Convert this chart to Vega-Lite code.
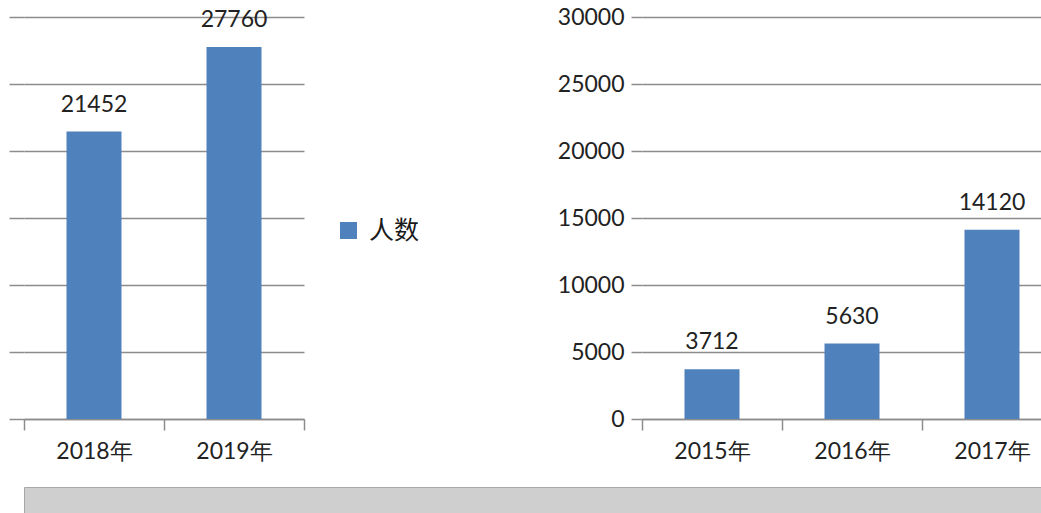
{
  "$schema": "https://vega.github.io/schema/vega-lite/v6.json",
  "padding": {"left": 8, "top": 6, "right": 0, "bottom": 0},
  "background": "white",
  "datasets": {
    "recent": [
      {"year": "2018年", "count": 21452, "series": "人数"},
      {"year": "2019年", "count": 27760, "series": "人数"}
    ],
    "earlier": [
      {"year": "2015年", "count": 3712, "series": "人数"},
      {"year": "2016年", "count": 5630, "series": "人数"},
      {"year": "2017年", "count": 14120, "series": "人数"}
    ]
  },
  "spacing": 23,
  "vconcat": [
    {
      "spacing": 252,
      "hconcat": [
        {
          "width": 280,
          "height": 402,
          "data": {"name": "recent"},
          "encoding": {
            "x": {"field": "year", "type": "nominal", "sort": null,
              "scale": {"paddingInner": 0, "paddingOuter": 0},
              "axis": {"title": null, "labelAngle": 0, "tickBand": "extent", "tickSize": 11, "labelPadding": 10}},
            "y": {"field": "count", "type": "quantitative",
              "scale": {"domain": [0, 30000], "nice": false},
              "axis": {"title": null, "labels": false, "domain": false, "tickSize": 15,
                "values": [0, 5000, 10000, 15000, 20000, 25000, 30000]}}
          },
          "layer": [
            {"mark": {"type": "bar", "width": 55},
             "encoding": {"color": {"field": "series", "type": "nominal",
               "scale": {"range": ["#4F81BD"]},
               "legend": {"title": null, "orient": "none", "legendX": 312, "legendY": 201,
                 "symbolType": "square", "symbolSize": 290, "symbolOpacity": 1,
                 "labelFontSize": 25, "labelFont": "Noto Sans CJK SC", "labelColor": "#1a1a1a", "labelOffset": 8}}}},
            {"mark": {"type": "text", "dy": -20, "baseline": "alphabetic", "fontSize": 23, "font": "Lato", "color": "#222222"},
             "encoding": {"text": {"field": "count", "type": "quantitative", "format": "d"}}}
          ]
        },
        {
          "width": 420,
          "height": 402,
          "data": {"name": "earlier"},
          "encoding": {
            "x": {"field": "year", "type": "nominal", "sort": null,
              "scale": {"paddingInner": 0, "paddingOuter": 0},
              "axis": {"title": null, "labelAngle": 0, "tickBand": "extent", "tickSize": 11, "labelPadding": 10}},
            "y": {"field": "count", "type": "quantitative",
              "scale": {"domain": [0, 30000], "nice": false},
              "axis": {"title": null, "domain": false, "tickSize": 11, "labelPadding": 7, "format": "d",
                "values": [0, 5000, 10000, 15000, 20000, 25000, 30000]}}
          },
          "layer": [
            {"mark": {"type": "bar", "width": 55},
             "encoding": {"color": {"field": "series", "type": "nominal"}}},
            {"mark": {"type": "text", "dy": -20, "baseline": "alphabetic", "fontSize": 23, "font": "Lato", "color": "#222222"},
             "encoding": {"text": {"field": "count", "type": "quantitative", "format": "d"}}}
          ]
        }
      ]
    },
    {
      "width": 1033,
      "height": 26,
      "data": {"values": [{}]},
      "mark": {"type": "text", "text": ""},
      "encoding": {},
      "view": {"fill": "#cfcfcf", "stroke": "#a8a8a8", "strokeWidth": 1}
    }
  ],
  "config": {
    "view": {"stroke": null},
    "axis": {
      "gridColor": "#8c8c8c", "gridWidth": 1.5, "gridOpacity": 1,
      "domainColor": "#8c8c8c", "domainWidth": 1.5,
      "tickColor": "#8c8c8c", "tickWidth": 1.5,
      "labelFont": "Lato", "labelFontSize": 23, "labelColor": "#222222"
    },
    "axisX": {"grid": false},
    "axisY": {"grid": true}
  }
}
